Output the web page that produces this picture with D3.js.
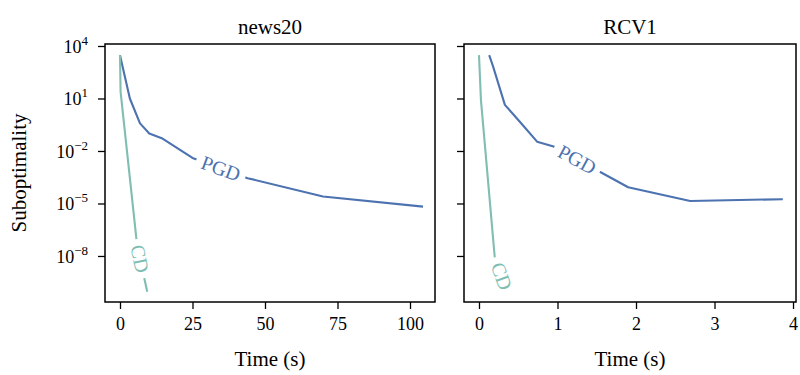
<!DOCTYPE html>
<html>
<head>
<meta charset="utf-8">
<script src="https://cdn.jsdelivr.net/npm/d3@7"></script>
<style>
  body { margin: 0; background: #fff; }
  text { font-family: "Liberation Serif", "Times New Roman", serif; }
</style>
</head>
<body>
<script>
// news20 panel
var newsPgdTime = [0, 3.4, 6.9, 10.1, 14.4, 25, 44, 70, 104.5];
var newsPgdSubopt = [3000, 10, 0.38, 0.1, 0.054, 0.004, 2.8e-4, 2.5e-5, 6.6e-6];
var newsCdTime = [0, 0.2, 5.9, 9.4];
var newsCdSubopt = [3000, 25, 4e-8, 9e-11];
// RCV1 panel
var rcvPgdTime = [0.13, 0.18, 0.33, 0.52, 0.74, 0.95, 1.9, 2.69, 3.87];
var rcvPgdSubopt = [3000, 660, 4.3, 0.47, 0.034, 0.018, 8.5e-5, 1.4e-5, 1.75e-5];
var rcvCdTime = [0, 0.025, 0.2, 0.36];
var rcvCdSubopt = [3000, 8.1, 9e-9, 1e-10];

var newsTicks = [0, 25, 50, 75, 100];
var rcvTicks = [0, 1, 2, 3, 4];
var yTicks = [1e4, 1e1, 1e-2, 1e-5, 1e-8];
var yTickExp = ['4', '1', '\u22122', '\u22125', '\u22128'];

// where the inline labels sit (time value along each line)
var newsLabelAt = [34.8, 6.9];
var rcvLabelAt = [1.25, 0.29];

var color = { PGD: '#4c72b0', CD: '#80bdb2' };

var width = 800, height = 375;
var plotTop = 44, plotBottom = 302;

var svg = d3.select('body')
    .append('svg')
    .attr('width', width)
    .attr('height', height);

var y = d3.scaleLog()
    .domain([Math.pow(10, -10.63), Math.pow(10, 4.114)])
    .range([plotBottom, plotTop]);

var panels = [
    {
        title: 'news20',
        x: d3.scaleLinear().domain([-5.17, 108.62]).range([105, 435]),
        ticks: newsTicks,
        series: [
            { name: 'PGD', t: newsPgdTime, v: newsPgdSubopt, at: newsLabelAt[0] },
            { name: 'CD', t: newsCdTime, v: newsCdSubopt, at: newsLabelAt[1] }
        ],
        yLabels: true
    },
    {
        title: 'RCV1',
        x: d3.scaleLinear().domain([-0.191, 4.038]).range([464, 796]),
        ticks: rcvTicks,
        series: [
            { name: 'PGD', t: rcvPgdTime, v: rcvPgdSubopt, at: rcvLabelAt[0] },
            { name: 'CD', t: rcvCdTime, v: rcvCdSubopt, at: rcvLabelAt[1] }
        ],
        yLabels: false
    }
];

panels.forEach(function (p) {
    var x = p.x;
    var x0 = x.range()[0], x1 = x.range()[1];
    var g = svg.append('g');

    // lines
    p.series.forEach(function (s) {
        var pts = s.t.map(function (t, i) { return [x(t), y(s.v[i])]; });
        g.append('path')
            .datum(pts)
            .attr('fill', 'none')
            .attr('stroke', color[s.name])
            .attr('stroke-width', 2.1)
            .attr('stroke-linejoin', 'round')
            .attr('d', d3.line());
    });

    // inline labels, cut into the line
    p.series.forEach(function (s) {
        var pts = s.t.map(function (t, i) { return [x(t), y(s.v[i])]; });
        var px = x(s.at), k = 0;
        while (k < pts.length - 2 && pts[k + 1][0] < px) k++;
        var a = pts[k], b = pts[k + 1];
        var f = (px - a[0]) / (b[0] - a[0]);
        var py = a[1] + f * (b[1] - a[1]);
        var ang = Math.atan2(b[1] - a[1], b[0] - a[0]) * 180 / Math.PI;

        var lab = g.append('g')
            .attr('transform', 'translate(' + px + ',' + py + ') rotate(' + ang + ')');
        var bg = lab.append('rect').attr('fill', '#fff');
        var txt = lab.append('text')
            .text(s.name)
            .attr('text-anchor', 'middle')
            .attr('dominant-baseline', 'central')
            .attr('font-size', 20)
            .attr('fill', color[s.name]);
        var bb = txt.node().getBBox();
        bg.attr('x', bb.x - 6)
            .attr('y', bb.y + 1)
            .attr('width', bb.width + 12)
            .attr('height', bb.height - 2);
    });

    // frame
    g.append('rect')
        .attr('x', x0)
        .attr('y', plotTop)
        .attr('width', x1 - x0)
        .attr('height', plotBottom - plotTop)
        .attr('fill', 'none')
        .attr('stroke', '#000')
        .attr('stroke-width', 1.5);

    // x axis
    var xAxis = g.append('g')
        .attr('transform', 'translate(0,' + plotBottom + ')')
        .call(d3.axisBottom(x).tickValues(p.ticks).tickSize(7).tickPadding(8)
            .tickFormat(function (d) { return String(d); }));
    xAxis.select('.domain').remove();
    xAxis.selectAll('line').attr('stroke', '#000').attr('stroke-width', 1.3);
    xAxis.selectAll('text')
        .attr('font-size', 18)
        .attr('font-family', '"Liberation Serif", serif')
        .attr('fill', '#000');

    // y ticks
    var yAxis = g.append('g')
        .attr('transform', 'translate(' + x0 + ',0)')
        .call(d3.axisLeft(y).tickValues(yTicks).tickSize(7).tickFormat(''));
    yAxis.select('.domain').remove();
    yAxis.selectAll('line').attr('stroke', '#000').attr('stroke-width', 1.3);

    if (p.yLabels) {
        yTicks.forEach(function (v, i) {
            var t = g.append('text')
                .attr('x', x0 - 17)
                .attr('y', y(v) + 7)
                .attr('text-anchor', 'end')
                .attr('font-size', 18)
                .attr('fill', '#000');
            t.append('tspan').text('10');
            t.append('tspan')
                .attr('dy', -8)
                .attr('font-size', 13)
                .text(yTickExp[i]);
        });
    }

    // title
    g.append('text')
        .attr('x', (x0 + x1) / 2)
        .attr('y', 34)
        .attr('text-anchor', 'middle')
        .attr('font-size', 21)
        .attr('fill', '#000')
        .text(p.title);

    // x label
    g.append('text')
        .attr('x', (x0 + x1) / 2)
        .attr('y', 366)
        .attr('text-anchor', 'middle')
        .attr('font-size', 21)
        .attr('fill', '#000')
        .text('Time (s)');
});

svg.append('text')
    .attr('transform', 'translate(26,' + (plotTop + plotBottom) / 2 + ') rotate(-90)')
    .attr('text-anchor', 'middle')
    .attr('font-size', 21)
    .attr('fill', '#000')
    .text('Suboptimality');
</script>
</body>
</html>
